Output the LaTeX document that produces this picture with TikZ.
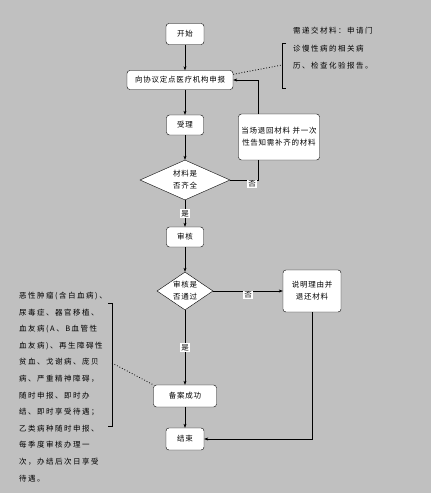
\documentclass[tikz,border=0pt]{standalone}
\usepackage{fontspec}
\setmainfont[LetterSpace=10]{Noto Sans CJK SC}
\newfontfamily\notefont[LetterSpace=20]{Noto Sans CJK SC}
\usepackage{xcolor}
\usetikzlibrary{shapes.geometric,arrows.meta}
\definecolor{bggray}{RGB}{192,192,192}

\begin{document}
\begin{tikzpicture}[x=1pt,y=-1pt,font=\fontsize{7.5}{12}\selectfont,
  box/.style={draw,fill=white,rounded corners=3pt,inner sep=1.5pt,align=center},
  decision/.style={draw,fill=white,diamond,inner sep=0pt,align=center},
  tag/.style={fill=white,inner sep=1pt},
  note/.style={align=left,inner sep=0pt,anchor=north west},
  arr/.style={-{Stealth[length=4pt,width=3pt]}}]
  \fill[bggray] (0,0) rectangle (431,493);
  \useasboundingbox (0,0) rectangle (431,493);

  \node[box,minimum width=38pt,minimum height=21pt] (start) at (185,34) {开始};
  \node[box,minimum width=106pt,minimum height=19pt] (apply) at (180,80) {向协议定点医疗机构申报};
  \node[box,minimum width=37pt,minimum height=20pt] (accept) at (185,125) {受理};
  \node[decision,minimum width=90pt,minimum height=40pt,shape aspect=2.25] (check) at (185,180) {材料是\\否齐全};
  \node[box,minimum width=81pt,minimum height=46pt] (back) at (279,137) {当场退回材料 并一次\\性告知需补齐的材料};
  \node[box,minimum width=37pt,minimum height=20pt] (review) at (185,237) {审核};
  \node[decision,minimum width=56pt,minimum height=38pt,shape aspect=1.5] (pass) at (185,291) {审核是\\否通过};
  \node[box,minimum width=58pt,minimum height=42pt] (reject) at (312,291) {说明理由并\\退还材料};
  \node[box,minimum width=63pt,minimum height=22pt] (done) at (185,396) {备案成功};
  \node[box,minimum width=38pt,minimum height=22pt] (end) at (185,439) {结束};
  \coordinate (turn) at (258,180);

  \draw[arr] (start) -- (start |- apply.north);
  \draw[arr] (start |- apply.south) -- (accept);
  \draw[arr] (accept) -- (check);
  \draw[arr] (check) -- node[tag,pos=0.5] (yes1) {是} (review);
  \draw (check.east) -- (turn) -- (turn |- back.south);
  \node[tag] (no1) at (252,184) {否};
  \draw[arr] (turn |- back.north) -- (turn |- apply.east) -- (apply.east);
  \draw[arr] (review) -- (pass);
  \draw[arr] (pass) -- (reject);
  \node[tag] (no2) at (248,295) {否};
  \draw[arr] (pass) -- node[tag,pos=0.5] (yes2) {是} (done);
  \draw[arr] (done) -- (end);
  \draw[arr] (reject.south) |- (end.east);

  \node[note,font=\notefont\fontsize{7.5}{17.5}\selectfont] (need) at (293,27) {需递交材料：申请门\\诊慢性病的相关病\\历、检查化验报告。};
  \draw (286,43) -- (282,43) -- (282,88) -- (286,88);
  \draw[dotted,thick] (apply.north east) ++(0,4) -- (282,65);

  \node[note,font=\notefont\fontsize{7.5}{16.6}\selectfont] (rule) at (19,292) {恶性肿瘤(含白血病)、\\尿毒症、器官移植、\\血友病(A、B血管性\\血友病)、再生障碍性\\贫血、戈谢病、庞贝\\病、严重精神障碍，\\随时申报、即时办\\结、即时享受待遇；\\乙类病种随时申报、\\每季度审核办理一\\次，办结后次日享受\\待遇。};
  \draw (108,303) -- (112,303) -- (112,426) -- (108,426);
  \draw[dotted,thick] (112,363) -- (done.north west);
\end{tikzpicture}
\end{document}
